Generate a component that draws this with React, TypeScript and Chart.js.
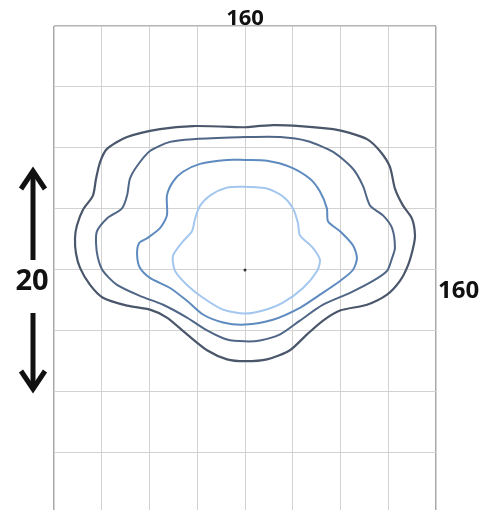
import React, { useEffect, useRef } from "react";
import { Chart, registerables } from "chart.js";

Chart.register(...registerables);

// contour values (x, y) in grid units, 20 units per grid cell
const outerX = [0, 11.7, 23.0, 36.9, 42.7, 51.1, 56.5, 60.7, 62.8, 66.2, 69.9, 71.2, 70.4, 68.3, 64.9, 59.5, 51.1, 39.8, 32.7, 26.0, 18.8, 9.2, 0, -7.5, -15.9, -24.3, -32.7, -39.8, -49.4, -59.5, -64.9, -69.1, -70.8, -71.2, -70.4, -67.8, -63.7, -62.4, -60.7, -57.8, -49.4, -35.6, -21.8, 0];
const outerY = [46.8, 47.5, 47.2, 46.2, 45.2, 42.9, 39.0, 33.8, 26.7, 21.1, 16.9, 11.4, 7.2, 1.6, -3.6, -8.1, -11.4, -13.3, -16.6, -21.1, -26.3, -29.3, -29.9, -29.3, -26.3, -21.1, -15.6, -13.0, -11.7, -9.1, -4.9, 0.7, 5.5, 10.4, 14.6, 19.8, 24.4, 29.9, 35.4, 39.7, 43.6, 46.2, 47.2, 46.8];

const secondX = [0, 14.7, 26.0, 36.9, 45.2, 49.4, 52.4, 57.8, 61.6, 62.8, 61.6, 59.5, 53.6, 44.0, 32.7, 23.0, 14.7, 6.3, 0, -7.5, -15.9, -24.3, -34.3, -44.0, -53.6, -59.5, -61.6, -62.4, -62.0, -57.8, -51.5, -49.4, -48.2, -45.2, -39.8, -31.4, -21.8, 0];
const secondY = [43.6, 43.6, 42.3, 38.7, 33.2, 27.6, 21.1, 17.9, 13.7, 7.2, 3.9, -0.3, -3.6, -7.5, -11.4, -16.6, -21.1, -23.1, -23.4, -22.8, -19.8, -15.6, -11.4, -8.5, -4.9, -0.3, 3.9, 8.8, 12.7, 16.9, 20.2, 24.4, 29.9, 34.1, 39.0, 42.0, 42.9, 43.6];

const thirdX = [0, 9.2, 18.8, 27.2, 31.4, 34.3, 34.8, 39.8, 45.2, 46.9, 45.2, 39.8, 31.4, 23.0, 11.7, 0, -9.2, -17.6, -24.3, -31.4, -39.8, -44.0, -45.2, -44.4, -41.0, -35.6, -32.7, -32.7, -30.2, -26.0, -18.8, -7.5, 0];
const thirdY = [36.1, 35.8, 33.8, 29.9, 25.7, 20.2, 15.9, 12.7, 8.1, 3.9, 0, -3.6, -8.1, -12.4, -16.3, -17.9, -17.2, -14.6, -10.1, -5.9, -2.6, 0.7, 4.9, 8.8, 10.4, 13.7, 17.9, 24.4, 28.9, 32.2, 34.8, 36.1, 36.1];

const innerX = [0, 9.2, 15.9, 20.1, 22.2, 23.0, 28.5, 31.4, 30.2, 24.3, 15.9, 7.5, 0, -9.2, -17.6, -24.3, -29.3, -30.2, -26.0, -22.2, -20.9, -18.8, -14.7, -7.5, 0];
const innerY = [27.3, 26.7, 24.1, 20.2, 15.3, 11.4, 7.2, 3.3, -0.3, -5.9, -10.7, -13.3, -14.3, -13.0, -9.1, -4.9, -0.3, 4.6, 9.4, 12.7, 16.9, 21.1, 24.4, 27.0, 27.3];

const xTicks = [-80, -60, -40, -20, 0, 20, 40, 60, 80];
const yTicks = [-60, -40, -20, 0, 20, 40, 60, 80];
const topLabel = "160";
const rightLabel = "160";
const sideLabel = "20";

const zip = (xs: number[], ys: number[]) => xs.map((x, i) => ({ x, y: ys[i] }));

const FONT = "'Open Sans', 'Noto Sans', sans-serif";

const labelsPlugin = {
  id: "labels",
  afterDraw(chart: any) {
    const ctx = chart.ctx as CanvasRenderingContext2D;
    const xs = chart.scales.x;
    const ys = chart.scales.y;
    ctx.save();
    ctx.fillStyle = "#111";
    ctx.textBaseline = "alphabetic";
    ctx.font = `bold 22px ${FONT}`;
    ctx.textAlign = "center";
    ctx.fillText(topLabel, xs.getPixelForValue(0), chart.chartArea.top - 1);
    ctx.font = `bold 24px ${FONT}`;
    ctx.textAlign = "left";
    ctx.fillText(rightLabel, chart.chartArea.right + 2, ys.getPixelForValue(0) + 28);
    ctx.font = `bold 29px ${FONT}`;
    ctx.textAlign = "center";
    ctx.fillText(sideLabel, 32, ys.getPixelForValue(0) + 20);
    // arrows
    ctx.strokeStyle = "#111";
    ctx.lineWidth = 5;
    ctx.lineCap = "butt";
    ctx.lineJoin = "miter";
    ctx.beginPath();
    ctx.moveTo(33, 260);
    ctx.lineTo(33, 172);
    ctx.stroke();
    ctx.beginPath();
    ctx.moveTo(21, 189);
    ctx.lineTo(33, 171);
    ctx.lineTo(45, 189);
    ctx.stroke();
    ctx.beginPath();
    ctx.moveTo(33, 313);
    ctx.lineTo(33, 389);
    ctx.stroke();
    ctx.beginPath();
    ctx.moveTo(21, 371);
    ctx.lineTo(33, 389);
    ctx.lineTo(45, 371);
    ctx.stroke();
    ctx.restore();
  },
};

export default function App() {
  const ref = useRef<HTMLCanvasElement | null>(null);
  useEffect(() => {
    if (!ref.current) return;
    const line = (data: any[], color: string, width: number) => ({
      data,
      showLine: true,
      borderColor: color,
      borderWidth: width,
      pointRadius: 0,
      tension: 0.25,
      fill: false,
    });
    const chart = new Chart(ref.current, {
      type: "scatter",
      data: {
        datasets: [
          line(zip(outerX, outerY), "#4a566a", 2.2),
          line(zip(secondX, secondY), "#4f6686", 2),
          line(zip(thirdX, thirdY), "#5e8bbf", 2),
          line(zip(innerX, innerY), "#a3c7ee", 2),
          {
            data: [{ x: 0, y: 0 }],
            pointRadius: 1.5,
            pointBackgroundColor: "#333",
            pointBorderWidth: 0,
            showLine: false,
          } as any,
        ],
      },
      options: {
        animation: false,
        responsive: true,
        maintainAspectRatio: false,
        layout: { padding: { left: 54, right: 48, top: 26, bottom: 0 } },
        plugins: { legend: { display: false }, tooltip: { enabled: false }, title: { display: false } },
        scales: {
          x: {
            type: "linear",
            min: -80,
            max: 80,
            afterBuildTicks: (s: any) => {
              s.ticks = xTicks.map((v) => ({ value: v }));
            },
            ticks: { display: false },
            border: { display: false },
            grid: {
              drawTicks: false,
              color: (c: any) => (Math.abs(c.tick?.value) === 80 ? "#a9a9a9" : "#d2d2d2"),
              lineWidth: (c: any) => (Math.abs(c.tick?.value) === 80 ? 1.5 : 1),
            },
          },
          y: {
            type: "linear",
            min: -78.7,
            max: 80,
            afterBuildTicks: (s: any) => {
              s.ticks = yTicks.map((v) => ({ value: v }));
            },
            ticks: { display: false },
            border: { display: false },
            grid: {
              drawTicks: false,
              color: (c: any) => (c.tick?.value === 80 ? "#b4b4b4" : "#d2d2d2"),
              lineWidth: (c: any) => (c.tick?.value === 80 ? 1.5 : 1),
            },
          },
        },
      },
      plugins: [labelsPlugin],
    });
    return () => chart.destroy();
  }, []);
  return (
    <div style={{ position: "absolute", left: 0, top: 0, width: 484, height: 514, background: "#fff" }}>
      <canvas ref={ref} />
    </div>
  );
}
